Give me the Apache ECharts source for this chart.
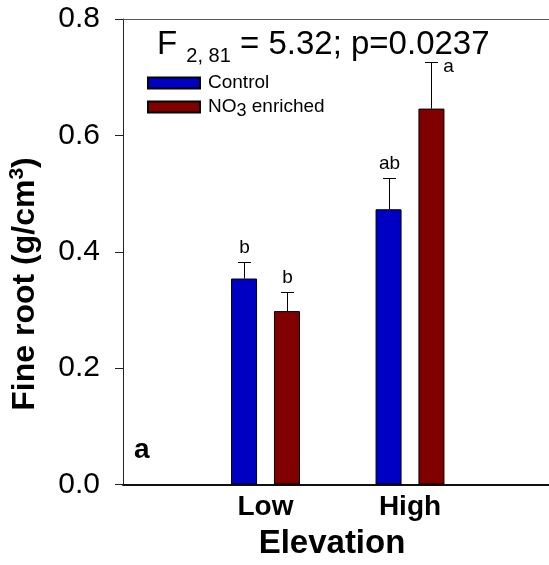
<!DOCTYPE html>
<html>
<head>
<meta charset="utf-8">
<script src="https://cdn.jsdelivr.net/npm/echarts@6/dist/echarts.min.js"></script>
<style>
  html, body { margin: 0; padding: 0; background: #ffffff; }
  #chart { width: 549px; height: 565px; }
</style>
</head>
<body>
<div id="chart"></div>
<script>
// Fine root density by elevation and nitrate treatment (mean + SE)
const elevations = ['Low', 'High'];
const controlMean = [0.354, 0.473];
const controlSE = [0.028, 0.054];
const nitrateMean = [0.298, 0.646];
const nitrateSE = [0.033, 0.080];
const controlLetters = ['b', 'ab'];
const nitrateLetters = ['b', 'a'];
const yTicks = [0.0, 0.2, 0.4, 0.6, 0.8];

const FONT = '"Liberation Sans", Arial, Helvetica, sans-serif';
const BLUE = '#0000c4';
const RED = '#800000';
const BAR_W = 26;
const BAR_GAP = 0.65;
const HALF_STEP = (BAR_W + BAR_W * BAR_GAP) / 2;

const chart = echarts.init(document.getElementById('chart'), null, { renderer: 'canvas' });

function errorSeries(name, means, ses, letters, offset) {
  return {
    type: 'custom',
    name: name + ' SE',
    xAxisIndex: 2,
    yAxisIndex: 1,
    z: 5,
    silent: true,
    data: means.map((m, i) => [i, m, ses[i]]),
    renderItem: function (params, api) {
      const i = api.value(0);
      const base = api.coord([i, api.value(1)]);
      const top = api.coord([i, api.value(1) + api.value(2)]);
      const x = Math.round(base[0] + offset) + 0.5;
      const yTop = Math.round(top[1]) + 0.5;
      // letters that would run into the heading sit beside the cap instead
      const beside = yTop < 90;
      return {
        type: 'group',
        children: [
          { type: 'line', shape: { x1: x, y1: base[1], x2: x, y2: yTop }, style: { stroke: '#000', lineWidth: 1 } },
          { type: 'line', shape: { x1: x - 6.5, y1: yTop, x2: x + 6.5, y2: yTop }, style: { stroke: '#000', lineWidth: 1 } },
          {
            type: 'text',
            x: beside ? x + 17 : x,
            y: beside ? yTop + 4 : yTop - 15,
            style: {
              text: letters[params.dataIndex],
              fontSize: 19, fontFamily: FONT, fill: '#000',
              align: 'center', verticalAlign: 'middle'
            }
          }
        ]
      };
    }
  };
}

const option = {
  backgroundColor: '#ffffff',
  animation: false,
  grid: [
    { left: 123, right: 0, top: 19, bottom: 80.5 },
    { left: 193.25, right: 66.75, top: 19, bottom: 80.5 }
  ],
  legend: {
    orient: 'vertical',
    left: 147, top: 73,
    padding: 0,
    itemWidth: 52, itemHeight: 11,
    itemGap: 5,
    icon: 'rect',
    data: ['Control', 'NO3 enriched'],
    formatter: function (name) {
      return name === 'NO3 enriched' ? '{t|NO}{s|3}{t| enriched}' : '{t|' + name + '}';
    },
    textStyle: {
      padding: [0, 0, 0, 3],
      rich: {
        t: { fontSize: 19, fontFamily: FONT, color: '#000', lineHeight: 20, verticalAlign: 'top' },
        s: { fontSize: 18, fontFamily: FONT, color: '#000', lineHeight: 20, verticalAlign: 'top', padding: [5, 0, 0, 0] }
      }
    }
  },
  xAxis: [
    { // frame bottom
      gridIndex: 0, type: 'value', min: 0, max: 1, position: 'bottom',
      axisLine: { show: true, lineStyle: { color: '#111', width: 2 } },
      axisTick: { show: false }, axisLabel: { show: false }, splitLine: { show: false }
    },
    { // frame top
      gridIndex: 0, type: 'value', min: 0, max: 1, position: 'top',
      axisLine: { show: true, lineStyle: { color: '#555', width: 1 } },
      axisTick: { show: false }, axisLabel: { show: false }, splitLine: { show: false }
    },
    { // elevation categories
      gridIndex: 1, type: 'category', data: elevations,
      axisLine: { show: false }, axisTick: { show: false },
      axisLabel: { margin: 9, fontSize: 28, fontWeight: 'bold', fontFamily: FONT, color: '#000' }
    }
  ],
  yAxis: [
    {
      gridIndex: 0, type: 'value', min: 0, max: 0.8, interval: 0.2,
      axisLine: { show: true, lineStyle: { color: '#222', width: 1 } },
      axisTick: { show: true, inside: false, length: 8, lineStyle: { color: '#222' } },
      axisLabel: {
        margin: 23, fontSize: 30, fontFamily: FONT, color: '#000',
        formatter: v => (yTicks.find(t => Math.abs(t - v) < 1e-9) ?? v).toFixed(1)
      },
      splitLine: { show: false }
    },
    {
      gridIndex: 1, type: 'value', min: 0, max: 0.8, interval: 0.2, show: false
    }
  ],
  series: [
    {
      name: 'Control', type: 'bar', xAxisIndex: 2, yAxisIndex: 1,
      data: controlMean, barWidth: BAR_W, barGap: (BAR_GAP * 100) + '%',
      itemStyle: { color: BLUE, borderColor: '#000', borderWidth: 1 }
    },
    {
      name: 'NO3 enriched', type: 'bar', xAxisIndex: 2, yAxisIndex: 1,
      data: nitrateMean, barWidth: BAR_W,
      itemStyle: { color: RED, borderColor: '#000', borderWidth: 1 }
    },
    errorSeries('Control', controlMean, controlSE, controlLetters, -HALF_STEP),
    errorSeries('NO3 enriched', nitrateMean, nitrateSE, nitrateLetters, HALF_STEP)
  ],
  graphic: [
    { // test statistic heading
      type: 'text', x: 157, y: 24,
      style: {
        text: '{b|F }{s|2, 81}{b| = 5.32; p=0.0237}',
        verticalAlign: 'top',
        rich: {
          b: { fontSize: 33, fontFamily: FONT, fill: '#000', lineHeight: 42 },
          s: { fontSize: 20, fontFamily: FONT, fill: '#000', lineHeight: 18, verticalAlign: 'bottom' }
        }
      }
    },
    { // y axis title
      type: 'text', x: 25, y: 284, rotation: Math.PI / 2,
      style: {
        text: '{t|Fine root (g/cm}{u|3}{t|)}',
        align: 'center', verticalAlign: 'middle',
        rich: {
          t: { fontSize: 32, fontWeight: 'bold', fontFamily: FONT, fill: '#000', lineHeight: 36 },
          u: { fontSize: 21, fontWeight: 'bold', fontFamily: FONT, fill: '#000', lineHeight: 20, verticalAlign: 'top' }
        }
      }
    },
    { // x axis title
      type: 'text', x: 332, y: 544,
      style: { text: 'Elevation', fontSize: 33, fontWeight: 'bold', fontFamily: FONT, fill: '#000', align: 'center', verticalAlign: 'middle' }
    },
    { // panel tag
      type: 'text', x: 134, y: 450,
      style: { text: 'a', fontSize: 28, fontWeight: 'bold', fontFamily: FONT, fill: '#000', align: 'left', verticalAlign: 'middle' }
    }
  ]
};

chart.setOption(option);
</script>
</body>
</html>
